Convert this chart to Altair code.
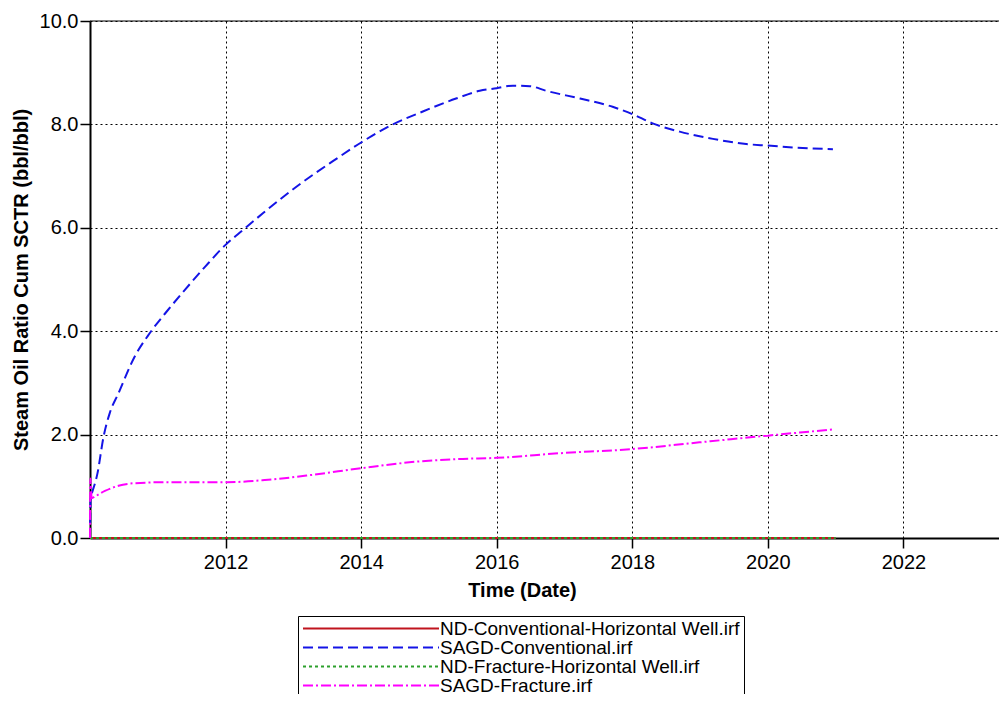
import altair as alt
import pandas as pd

# ---- data ----
series_names = [
    "ND-Conventional-Horizontal Well.irf",
    "SAGD-Conventional.irf",
    "ND-Fracture-Horizontal Well.irf",
    "SAGD-Fracture.irf",
]
series_colors = ["#c0141e", "#1414e6", "#2ca02c", "#ff00ff"]
series_dashes = [[1, 0], [10, 5], [3, 3], [10, 3, 2, 3]]

nd_conv_t = [2010.0, 2021.0]
nd_conv_v = [0.0, 0.0]

sagd_conv_t = [2010.0, 2010.01, 2010.025, 2010.11, 2010.2, 2010.29, 2010.42, 2010.66,
               2010.88, 2011.15, 2011.4, 2011.7, 2012.0, 2012.26, 2012.55, 2013.05,
               2013.54, 2014.0, 2014.42, 2014.91, 2015.4, 2015.75, 2016.0, 2016.24,
               2016.49, 2016.73, 2017.23, 2017.71, 2018.0, 2018.3, 2018.7, 2019.19,
               2019.68, 2020.0, 2020.42, 2020.96]
sagd_conv_v = [0.0, 0.8, 0.86, 1.25, 1.96, 2.41, 2.8, 3.51,
               3.96, 4.41, 4.8, 5.25, 5.67, 5.96, 6.28, 6.8,
               7.25, 7.65, 7.97, 8.25, 8.5, 8.65, 8.7, 8.75,
               8.74, 8.65, 8.5, 8.34, 8.2, 8.02, 7.86, 7.72,
               7.62, 7.59, 7.55, 7.52]

nd_frac_t = [2010.0, 2021.0]
nd_frac_v = [0.0, 0.0]

sagd_frac_t = [2010.0, 2010.005, 2010.025, 2010.07, 2010.22, 2010.42, 2010.66, 2011.15,
               2012.02, 2012.58, 2013.27, 2014.0, 2014.84, 2015.5, 2016.0, 2016.93,
               2018.0, 2018.99, 2020.0, 2020.47, 2020.96]
sagd_frac_v = [0.0, 1.15, 0.77, 0.80, 0.91, 1.01, 1.06, 1.08,
               1.08, 1.12, 1.22, 1.35, 1.48, 1.53, 1.55, 1.64,
               1.72, 1.85, 1.98, 2.04, 2.10]

x_ticks = [2012, 2014, 2016, 2018, 2020, 2022]
y_ticks = [0, 2, 4, 6, 8, 10]

rows = []
for name, ts, vs in [
    (series_names[0], nd_conv_t, nd_conv_v),
    (series_names[1], sagd_conv_t, sagd_conv_v),
    (series_names[2], nd_frac_t, nd_frac_v),
    (series_names[3], sagd_frac_t, sagd_frac_v),
]:
    for i, (t, v) in enumerate(zip(ts, vs)):
        rows.append({"series": name, "t": t, "v": v, "i": i})
df = pd.DataFrame(rows)

FONT = "Liberation Sans"

x_enc = alt.X(
    "t:Q",
    scale=alt.Scale(domain=[2010, 2023.41], nice=False, zero=False),
    axis=alt.Axis(
        values=x_ticks, format="d", title="Time (Date)",
        titleX=432, titleY=58, titleBaseline="alphabetic", titleAnchor="middle",
    ),
)
y_enc = alt.Y(
    "v:Q",
    scale=alt.Scale(domain=[0, 10], nice=False),
    axis=alt.Axis(values=y_ticks, format=".1f",
                  title="Steam Oil Ratio Cum SCTR (bbl/bbl)", titlePadding=8),
)

leg = alt.Legend(title=None, orient="none", legendX=208, legendY=595)

lines = alt.Chart(df).mark_line(strokeWidth=2, interpolate="monotone").encode(
    x=x_enc,
    y=y_enc,
    order="i:Q",
    color=alt.Color("series:N", scale=alt.Scale(domain=series_names, range=series_colors),
                    legend=leg),
    strokeDash=alt.StrokeDash("series:N", scale=alt.Scale(domain=series_names, range=series_dashes),
                              legend=leg),
)

top_rule = alt.Chart().mark_rule(color="black", strokeWidth=1).encode(y=alt.datum(10))

chart = alt.layer(top_rule, lines).properties(
    width=909, height=517,
    autosize="none",
    padding={"left": 82, "top": 13, "right": 0, "bottom": 156},
).configure_view(stroke=None).configure_axis(
    labelFont=FONT, labelFontSize=20, labelColor="black",
    titleFont=FONT, titleFontSize=20, titleFontWeight="bold", titleColor="black",
    domainColor="black", domainWidth=2,
    tickColor="black", tickSize=10, tickWidth=1.5,
    labelPadding=2,
    grid=True, gridColor="black", gridDash=[2, 3], gridWidth=1, gridOpacity=1,
).configure_axisX(labelPadding=4).configure_legend(
    labelFont=FONT, labelFontSize=19, labelColor="black",
    symbolType="stroke", symbolSize=18496, symbolStrokeWidth=2,
    strokeColor="black", fillColor="white", padding=4,
    rowPadding=-4, labelOffset=0, labelLimit=0, clipHeight=17,
)

chart.save("out.html", embed_options={"renderer": "svg", "actions": False})
